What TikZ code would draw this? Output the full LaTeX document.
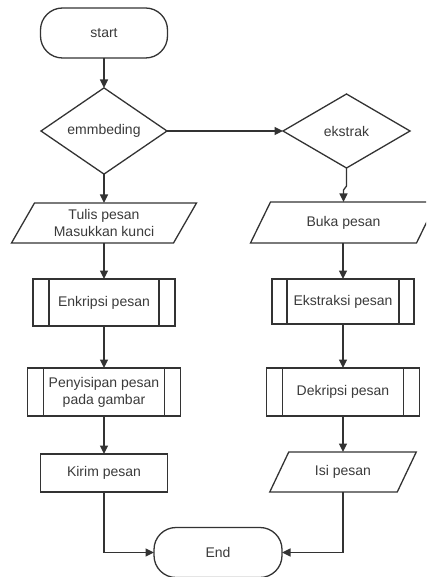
\documentclass[tikz,border=0pt]{standalone}
\usepackage{fontspec}
\setmainfont{Liberation Sans}
\usetikzlibrary{arrows.meta,shapes.geometric}
\definecolor{ln}{HTML}{333333}
\definecolor{tx}{HTML}{3A3A3A}
\tikzset{
  base/.style={inner sep=0pt,outer sep=0pt,align=center,text=tx,font=\fontsize{14}{17}\selectfont},
  term/.style={base,draw=ln,line width=1.3pt,rectangle,rounded corners=22pt},
  dec/.style={base,draw=ln,line width=1.3pt,diamond},
  proc/.style={base,draw=ln,line width=1.3pt,rectangle},
  io/.style={base,draw=none,rectangle},
  outl/.style={draw=ln,line width=1.3pt},
  flow/.style={draw=ln,line width=1.3pt,-{Triangle[length=8.5pt,width=8pt]}},
}
\begin{document}
\begin{tikzpicture}[x=1pt,y=-1pt]
\useasboundingbox (0,0) rectangle (426,577);
\clip (0,0) rectangle (426,577);
% left column
\node[term,minimum width=127pt,minimum height=50pt] (start) at (104,33) {start};
\node[dec,minimum width=126pt,minimum height=74pt] (emb) at (104,131) {emmbeding};
\node[io,minimum width=162pt,minimum height=40pt] (tulis) at (104,223) {Tulis pesan\\Masukkan kunci};
\node[proc,minimum width=142pt,minimum height=47pt] (enk) at (104,302.5) {Enkripsi pesan};
\node[proc,minimum width=153pt,minimum height=48pt] (sisip) at (104,392) {Penyisipan pesan\\pada gambar};
\node[proc,minimum width=127pt,minimum height=38pt] (kirim) at (104,473) {Kirim pesan};
% right column
\node[dec,minimum width=127pt,minimum height=74pt] (eks) at (346.5,131) {ekstrak};
\node[io,minimum width=166pt,minimum height=41pt] (buka) at (343.5,222.5) {Buka pesan};
\node[proc,minimum width=142pt,minimum height=45pt] (eksp) at (343,301.5) {Ekstraksi pesan};
\node[proc,minimum width=153pt,minimum height=48pt] (dek) at (343,392) {Dekripsi pesan};
\node[io,minimum width=127.5pt,minimum height=40pt] (isi) at (343,472) {Isi pesan};
% end
\node[term,minimum width=128pt,minimum height=50pt] (end) at (218,552.5) {End};
% parallelogram outlines
\draw[outl] ([xshift=11.5pt]tulis.north west) -- ([xshift=11.5pt]tulis.north east) -- ([xshift=-11.5pt]tulis.south east) -- ([xshift=-11.5pt]tulis.south west) -- cycle;
\draw[outl] ([xshift=10pt]buka.north west) -- ([xshift=10pt]buka.north east) -- ([xshift=-10pt]buka.south east) -- ([xshift=-10pt]buka.south west) -- cycle;
\draw[outl] ([xshift=9.5pt]isi.north west) -- ([xshift=9.5pt]isi.north east) -- ([xshift=-9.5pt]isi.south east) -- ([xshift=-9.5pt]isi.south west) -- cycle;
% predefined process inner lines
\foreach \n/\d in {enk/16pt,sisip/16pt,eksp/15pt,dek/16pt}{
  \draw[outl] ([xshift=\d]\n.north west) -- ([xshift=\d]\n.south west);
  \draw[outl] ([xshift=-\d]\n.north east) -- ([xshift=-\d]\n.south east);
}
% connectors
\coordinate (k1) at (346.5,186);
\coordinate (k2) at (343.5,190);
\draw[flow] (start.south) -- (emb.north);
\draw[flow] (emb.south) -- (tulis.north);
\draw[flow] (emb.east) -- (eks.west);
\draw[flow] (tulis.south) -- (enk.north);
\draw[flow] (enk.south) -- (sisip.north);
\draw[flow] (sisip.south) -- (kirim.north);
\draw[flow] (kirim.south) |- (end.west);
\draw[flow] (eks.south) -- (k1) -- (k2) -- (buka.north);
\draw[flow] (buka.south -| eksp.north) -- (eksp.north);
\draw[flow] (eksp.south) -- (dek.north);
\draw[flow] (dek.south) -- (isi.north);
\draw[flow] (isi.south) |- (end.east);
\end{tikzpicture}
\end{document}
